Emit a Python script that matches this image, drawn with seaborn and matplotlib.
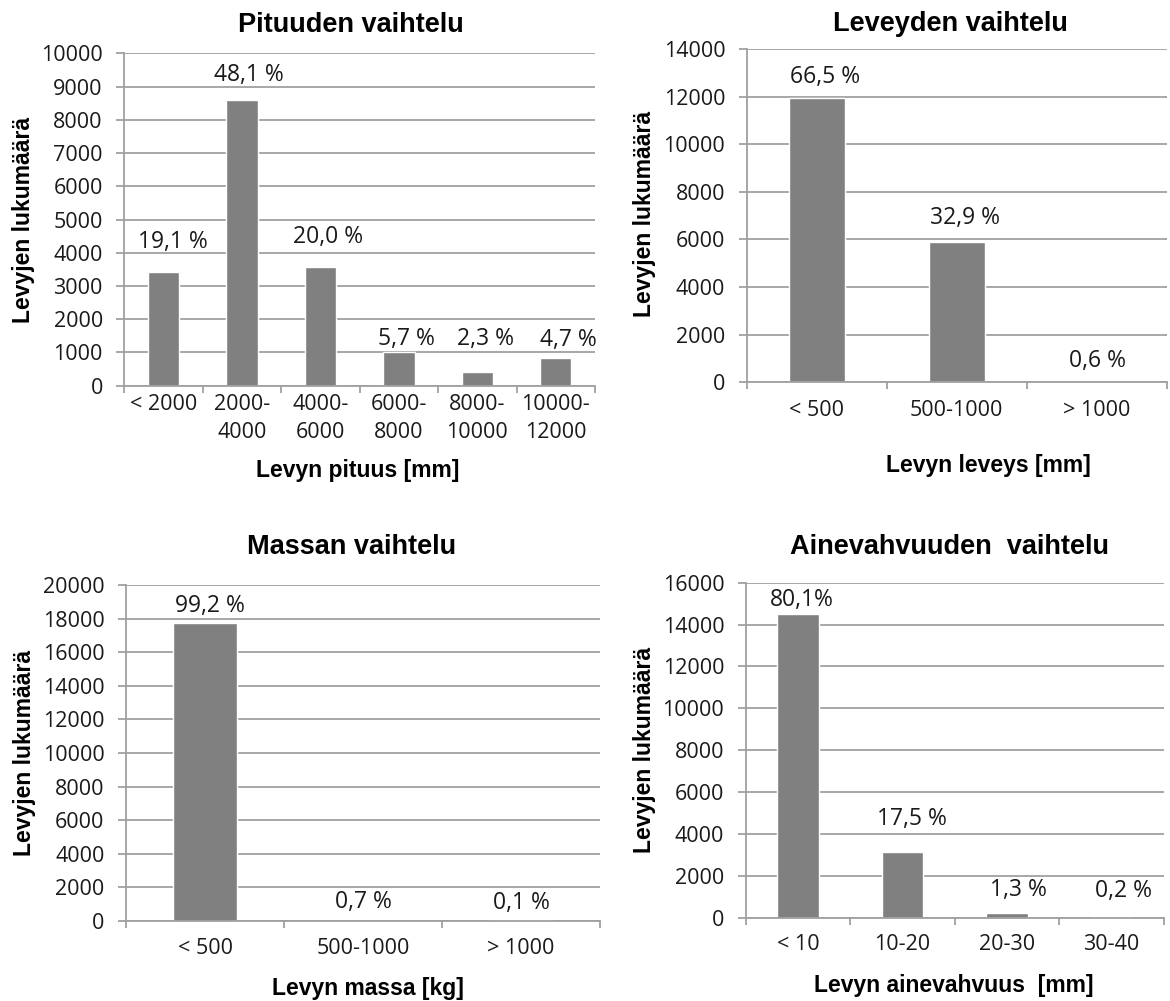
import matplotlib
matplotlib.use("Agg")
import matplotlib.pyplot as plt
import numpy as np
import pandas as pd
import seaborn as sns

# --- data -------------------------------------------------------------------
pituus_luokat = ["< 2000", "2000-\n4000", "4000-\n6000", "6000-\n8000", "8000-\n10000", "10000-\n12000"]
pituus_lkm = [3410, 8610, 3580, 1010, 410, 840]
pituus_osuus = ["19,1 %", "48,1 %", "20,0 %", "5,7 %", "2,3 %", "4,7 %"]

leveys_luokat = ["< 500", "500-1000", "> 1000"]
leveys_lkm = [11940, 5880, 100]
leveys_osuus = ["66,5 %", "32,9 %", "0,6 %"]

massa_luokat = ["< 500", "500-1000", "> 1000"]
massa_lkm = [17740, 125, 20]
massa_osuus = ["99,2 %", "0,7 %", "0,1 %"]

aine_luokat = ["< 10", "10-20", "20-30", "30-40"]
aine_lkm = [14520, 3140, 210, 40]
aine_osuus = ["80,1%", "17,5 %", "1,3 %", "0,2 %"]

# --- style ------------------------------------------------------------------
sns.set_style("white")
plt.rcParams["font.family"] = ["Open Sans", "DejaVu Sans"]
BAR = "#808080"
GRID = "#a0a0a0"
TXT = "#1a1a1a"
BOLD_FONT = ["Liberation Sans", "DejaVu Sans"]
TICK_SIZE = 15.5
VALUE_SIZE = 16.5

W, H = 1170, 1001
fig = plt.figure(figsize=(W / 100, H / 100), dpi=100)


def fig_xy(x, y):
    return x / W, 1 - y / H


def panel(rect, cats, counts, shares, ymax, ystep, title, xlabel,
          title_pos, xlabel_pos, ylabel_pos, label_offsets, xtick_pad, xright=None):
    l, t, r, b = rect
    ax = fig.add_axes([l / W, 1 - b / H, (r - l) / W, (b - t) / H])
    df = pd.DataFrame({"luokka": cats, "lkm": counts})
    sns.barplot(data=df, x="luokka", y="lkm", order=cats, color=BAR,
                saturation=1, width=0.4, ax=ax)
    n = len(cats)
    ax.set_xlim(-0.5, (n - 0.5) if xright is None else xright)
    ax.set_ylim(0, ymax)
    yt = np.arange(0, ymax + 1, ystep)
    ax.set_yticks(yt)
    ax.set_yticklabels([str(int(v)) for v in yt])
    ax.grid(axis="y", color=GRID, lw=1.3)
    ax.grid(axis="x", visible=False)
    ax.set_axisbelow(True)
    for s in ("top", "right"):
        ax.spines[s].set_visible(False)
    for s in ("left", "bottom"):
        ax.spines[s].set_color(GRID)
        ax.spines[s].set_linewidth(1.3)
    ax.tick_params(axis="y", length=5.5, width=1.3, color=GRID, pad=10,
                   labelsize=TICK_SIZE, labelcolor=TXT, left=True)
    ax.tick_params(axis="x", which="major", length=0, pad=xtick_pad,
                   labelsize=TICK_SIZE, labelcolor=TXT)
    ax.set_xticks(np.arange(-0.5, n), minor=True)
    ax.tick_params(axis="x", which="minor", length=5, width=1.3, color=GRID, bottom=True)
    for lab in ax.get_xticklabels():
        lab.set_multialignment("center")
        lab.set_linespacing(1.45)
    ax.set_xlabel("")
    ax.set_ylabel("")

    for i, (v, s) in enumerate(zip(counts, shares)):
        dx, dy = label_offsets[i]
        ax.annotate(s, xy=(i, v), xytext=(dx, dy), textcoords="offset pixels",
                    ha="center", va="center", fontsize=VALUE_SIZE, color=TXT)

    fig.text(*fig_xy(*title_pos), title, ha="center", va="baseline",
             fontsize=19.5, fontweight="bold", family=BOLD_FONT, color="black")
    fig.text(*fig_xy(*xlabel_pos), xlabel, ha="center", va="baseline",
             fontsize=16.5, fontweight="bold", family=BOLD_FONT, color="black")
    fig.text(*fig_xy(*ylabel_pos), "Levyjen lukumäärä", ha="center", va="center",
             rotation=90, fontsize=16.5, fontweight="bold", family=BOLD_FONT, color="black")
    return ax


panel((124.3, 53.3, 595, 385.7), pituus_luokat, pituus_lkm, pituus_osuus,
      10000, 1000, "Pituuden vaihtelu", "Levyn pituus [mm]",
      (351, 32.3), (357.5, 476.7), (24, 220),
      [(9, 30.6), (7.4, 24.3), (8, 30), (8, 13.3), (8, 33), (13, 17.7)], 6)

panel((746.7, 49, 1166.7, 382.3), leveys_luokat, leveys_lkm, leveys_osuus,
      14000, 2000, "Leveyden vaihtelu", "Levyn leveys [mm]",
      (950, 30.7), (988.3, 471.7), (645, 214),
      [(8, 21.3), (8, 24), (1, 19.3)], 12.5)

panel((126, 585.3, 600, 920.7), massa_luokat, massa_lkm, massa_osuus,
      20000, 2000, "Massan vaihtelu", "Levyn massa [kg]",
      (351.7, 554), (367.5, 995), (25, 753),
      [(5, 17.3), (0, 17), (0, 17)], 12.5, xright=-0.5 + 3 * (600 - 126) / 486)

panel((745.7, 582.7, 1163.7, 917.7), aine_luokat, aine_lkm, aine_osuus,
      16000, 2000, "Ainevahvuuden  vaihtelu", "Levyn ainevahvuus  [mm]",
      (949.2, 554), (954.2, 991.7), (645, 750),
      [(4, 13.7), (9, 32.7), (11, 23.3), (12, 26)], 12)

fig.savefig("out.png", dpi=100, facecolor="white")
